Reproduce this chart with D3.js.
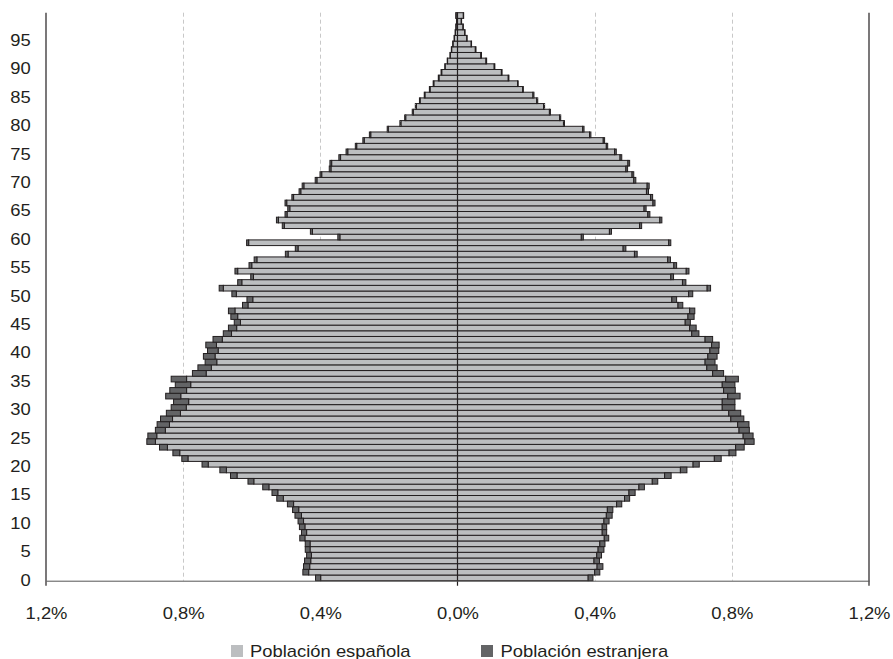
<!DOCTYPE html>
<html>
<head>
<meta charset="utf-8">
<script src="https://cdn.jsdelivr.net/npm/d3@7"></script>
<style>
  html, body { margin: 0; padding: 0; background: #ffffff; }
  svg { display: block; }
  text { font-family: "Liberation Sans", Arial, Helvetica, sans-serif; fill: #231f20; }
</style>
</head>
<body>
<svg id="chart" width="893" height="659"></svg>
<script>
// ---------- DATA (percent of total population, ages 0..99) ----------
const ages = d3.range(0, 100);

const maleSpanish = [
  0.399,0.434,0.431,0.428,0.426,0.430,0.430,0.445,0.440,0.445,
  0.449,0.455,0.463,0.478,0.508,0.524,0.550,0.594,0.643,0.674,
  0.727,0.786,0.810,0.846,0.881,0.877,0.852,0.840,0.831,0.808,
  0.791,0.784,0.807,0.790,0.778,0.790,0.733,0.718,0.702,0.707,
  0.698,0.703,0.686,0.659,0.644,0.633,0.641,0.649,0.611,0.597,
  0.645,0.683,0.629,0.595,0.641,0.600,0.585,0.494,0.465,0.609,
  0.343,0.423,0.505,0.522,0.497,0.489,0.498,0.478,0.457,0.448,
  0.410,0.396,0.369,0.367,0.341,0.320,0.294,0.272,0.253,0.202,
  0.165,0.151,0.129,0.120,0.109,0.095,0.080,0.069,0.054,0.046,
  0.036,0.029,0.021,0.017,0.013,0.009,0.006,0.004,0.002,0.004
];
const maleForeign = [
  0.015,0.017,0.018,0.018,0.014,0.014,0.014,0.015,0.015,0.016,
  0.016,0.019,0.018,0.018,0.019,0.017,0.018,0.017,0.019,0.019,
  0.018,0.018,0.020,0.023,0.025,0.026,0.029,0.036,0.035,0.041,
  0.044,0.044,0.044,0.049,0.045,0.045,0.040,0.039,0.034,0.034,
  0.031,0.031,0.027,0.024,0.024,0.018,0.020,0.019,0.016,0.017,
  0.013,0.012,0.012,0.008,0.008,0.008,0.008,0.008,0.008,0.006,
  0.006,0.006,0.006,0.006,0.006,0.006,0.005,0.005,0.005,0.005,
  0.005,0.005,0.005,0.005,0.005,0.005,0.004,0.004,0.004,0.003,
  0.003,0.003,0.003,0.003,0.002,0.002,0.002,0.002,0.002,0.002,
  0.001,0.001,0.001,0.001,0.001,0.001,0.001,0.001,0.001,0.001
];
const femaleSpanish = [
  0.381,0.400,0.407,0.398,0.406,0.410,0.415,0.428,0.422,0.422,
  0.427,0.434,0.437,0.464,0.487,0.500,0.529,0.568,0.604,0.650,
  0.687,0.749,0.792,0.811,0.838,0.833,0.821,0.817,0.797,0.791,
  0.772,0.772,0.788,0.776,0.772,0.782,0.744,0.727,0.722,0.730,
  0.736,0.741,0.722,0.683,0.677,0.664,0.672,0.677,0.643,0.625,
  0.674,0.728,0.656,0.622,0.667,0.631,0.613,0.516,0.483,0.616,
  0.361,0.443,0.531,0.590,0.555,0.544,0.570,0.563,0.551,0.553,
  0.514,0.509,0.491,0.497,0.474,0.458,0.434,0.425,0.385,0.365,
  0.309,0.298,0.268,0.251,0.231,0.220,0.190,0.175,0.148,0.128,
  0.107,0.083,0.068,0.052,0.040,0.027,0.021,0.016,0.011,0.017
];
const femaleForeign = [
  0.014,0.015,0.017,0.016,0.014,0.017,0.015,0.013,0.013,0.013,
  0.015,0.017,0.016,0.015,0.015,0.018,0.016,0.016,0.019,0.019,
  0.018,0.020,0.020,0.025,0.027,0.029,0.030,0.033,0.038,0.035,
  0.037,0.037,0.036,0.034,0.037,0.037,0.032,0.030,0.029,0.027,
  0.026,0.022,0.022,0.021,0.019,0.015,0.018,0.015,0.014,0.014,
  0.012,0.010,0.010,0.008,0.008,0.008,0.008,0.008,0.008,0.006,
  0.006,0.006,0.006,0.006,0.006,0.006,0.006,0.006,0.006,0.006,
  0.006,0.005,0.005,0.005,0.005,0.005,0.004,0.004,0.004,0.004,
  0.003,0.003,0.003,0.003,0.003,0.003,0.002,0.002,0.002,0.002,
  0.002,0.002,0.002,0.002,0.001,0.001,0.001,0.001,0.001,0.001
];

const xTickValues = [-1.2, -0.8, -0.4, 0, 0.4, 0.8, 1.2];
const gridValues = [-0.8, -0.4, 0.4, 0.8];
const yTickAges = d3.range(0, 100, 5);
const seriesNames = ["Población española", "Población estranjera"];
const seriesColors = ["#bcbec0", "#636466"];

// ---------- LAYOUT ----------
const svg = d3.select("#chart");
const plotLeft = 46, plotRight = 869, plotTop = 12.7, plotBottom = 580.7;
const TX = 1.15; // horizontal text stretch seen in the reference

const x = d3.scaleLinear().domain([-1.2, 1.2]).range([plotLeft, plotRight]);
const y = d3.scaleBand().domain(ages).range([plotBottom, plotTop]).padding(0);

// grid lines
svg.append("g").selectAll("line").data(gridValues).join("line")
  .attr("x1", d => Math.round(x(d)) + 0.5).attr("x2", d => Math.round(x(d)) + 0.5)
  .attr("y1", plotTop).attr("y2", plotBottom)
  .attr("stroke", "#c8c8c8").attr("stroke-width", 1)
  .attr("stroke-dasharray", "4,3");

// bars
const rows = ages.map((a, i) => ({
  age: a, ms: maleSpanish[i], mf: maleForeign[i], fs: femaleSpanish[i], ff: femaleForeign[i]
}));
const barG = svg.append("g").attr("stroke", "#231f20").attr("stroke-width", 1);
const bh = y.bandwidth();

barG.selectAll("rect.ms").data(rows).join("rect").attr("class", "ms")
  .attr("x", d => x(-d.ms)).attr("width", d => x(0) - x(-d.ms))
  .attr("y", d => y(d.age)).attr("height", bh).attr("fill", seriesColors[0]);
barG.selectAll("rect.mf").data(rows).join("rect").attr("class", "mf")
  .attr("x", d => x(-d.ms - d.mf)).attr("width", d => x(-d.ms) - x(-d.ms - d.mf))
  .attr("y", d => y(d.age)).attr("height", bh).attr("fill", seriesColors[1]);
barG.selectAll("rect.fs").data(rows).join("rect").attr("class", "fs")
  .attr("x", x(0)).attr("width", d => x(d.fs) - x(0))
  .attr("y", d => y(d.age)).attr("height", bh).attr("fill", seriesColors[0]);
barG.selectAll("rect.ff").data(rows).join("rect").attr("class", "ff")
  .attr("x", d => x(d.fs)).attr("width", d => x(d.fs + d.ff) - x(d.fs))
  .attr("y", d => y(d.age)).attr("height", bh).attr("fill", seriesColors[1]);

// zero line
svg.append("line")
  .attr("x1", x(0)).attr("x2", x(0)).attr("y1", plotTop).attr("y2", plotBottom + 5)
  .attr("stroke", "#231f20").attr("stroke-width", 1.2);

// frame verticals
[plotLeft, plotRight].forEach(px => {
  svg.append("line").attr("x1", px).attr("x2", px).attr("y1", plotTop).attr("y2", plotBottom + 5)
    .attr("stroke", "#231f20").attr("stroke-width", 1.2);
});

// bottom axis
const fmt = v => Math.abs(v).toFixed(1).replace(".", ",") + "%";
const xAxis = svg.append("g").attr("transform", `translate(0,${plotBottom})`)
  .call(d3.axisBottom(x).tickValues(xTickValues).tickFormat(fmt).tickSize(0).tickPadding(0));
xAxis.select(".domain").attr("stroke", "#555555").attr("stroke-width", 1);
xAxis.selectAll("text")
  .attr("y", 38).attr("dy", null)
  .attr("font-size", 16)
  .attr("font-family", "Liberation Sans, Arial, sans-serif")
  .attr("fill", "#231f20")
  .attr("transform", `scale(${TX},1)`);

// left axis labels (ages)
const yAxis = svg.append("g").attr("transform", `translate(${plotLeft},0)`)
  .call(d3.axisLeft(y).tickValues(yTickAges).tickSize(0).tickPadding(0));
yAxis.select(".domain").remove();
yAxis.selectAll("text")
  .attr("x", -15.3 / TX).attr("dy", null).attr("y", 7.7)
  .attr("font-size", 16)
  .attr("font-family", "Liberation Sans, Arial, sans-serif")
  .attr("fill", "#231f20")
  .attr("transform", `scale(${TX},1)`);

// legend
const legendItems = [
  { name: seriesNames[0], color: seriesColors[0], sx: 231, tx: 250 },
  { name: seriesNames[1], color: seriesColors[1], sx: 481, tx: 500.5 }
];
const lg = svg.append("g");
legendItems.forEach(it => {
  lg.append("rect").attr("x", it.sx).attr("y", 645).attr("width", 12).attr("height", 12)
    .attr("fill", it.color);
  lg.append("text")
    .attr("transform", `translate(${it.tx},656.5) scale(${TX},1)`)
    .attr("font-size", 16).attr("fill", "#231f20")
    .text(it.name);
});
</script>
</body>
</html>
